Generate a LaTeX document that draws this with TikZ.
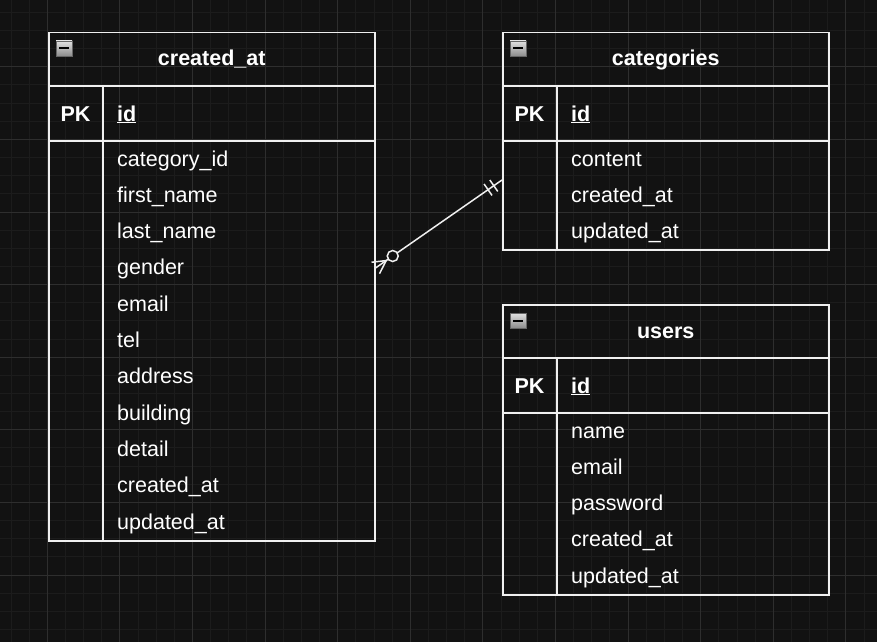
\documentclass[tikz,border=0pt]{standalone}
\usepackage{fontspec}
\setmainfont{Liberation Sans}
\usetikzlibrary{calc}
\definecolor{canvas}{HTML}{121212}
\definecolor{gridminor}{HTML}{1C1C1C}
\definecolor{gridmajor}{HTML}{2E2E2E}
\definecolor{linewhite}{HTML}{F0F0F0}

\begin{document}
\begin{tikzpicture}[x=1pt,y=-1pt,
  table/.style={draw=linewhite, line width=1.5pt, rectangle, anchor=north west, inner sep=0pt, minimum width=326pt},
  rule/.style={draw=linewhite, line width=1.5pt},
  title/.style={text=white, inner sep=0pt, anchor=base, font=\fontsize{21.5}{25}\selectfont\bfseries},
  field/.style={text=white, inner sep=0pt, anchor=base west, font=\fontsize{21.5}{25}\selectfont},
  icon/.style={rectangle, draw=black!60, line width=0.8pt, top color=black!12, bottom color=black!45, minimum width=16pt, minimum height=15pt, inner sep=0pt,
    path picture={\draw[black, line width=2pt] ($(path picture bounding box.west)+(3,0)$) -- ($(path picture bounding box.east)+(-3,0)$);}},
  link/.style={draw=linewhite, line width=1.5pt}]
\useasboundingbox[fill=canvas] (0,0) rectangle (877,642);
% grid
\foreach \i in {-2,...,45}
  \draw[gridminor, line width=1pt] ({47.3+18.15*\i},0) -- ({47.3+18.15*\i},642);
\foreach \i in {-31,...,3}
  \draw[gridminor, line width=1pt] (0,{575+18.15*\i}) -- (877,{575+18.15*\i});
\foreach \i in {0,...,11}
  \draw[gridmajor, line width=1pt] ({47.3+72.6*\i},0) -- ({47.3+72.6*\i},642);
\foreach \i in {0,...,7}
  \draw[gridmajor, line width=1pt] (0,{575-72.6*\i}) -- (877,{575-72.6*\i});

% tables
\node[table, minimum height=508pt] (createdat) at (48,32) {};
\node[table, minimum height=217pt] (categories) at (502,32) {};
\node[table, minimum height=290pt] (users) at (502,304) {};
\foreach \t in {createdat,categories,users} {
  \draw[rule] ($(\t.north west)+(0,54)$) -- ($(\t.north east)+(0,54)$);
  \draw[rule] ($(\t.north west)+(0,109)$) -- ($(\t.north east)+(0,109)$);
  \draw[rule] ($(\t.north west)+(55,54)$) -- ($(\t.south west)+(55,0)$);
  \node[icon] (\t-icon) at ($(\t.north west)+(16,16.5)$) {};
  \node[title] (\t-pk) at ($(\t.north west)+(27.5,89)$) {PK};
  \node[title, anchor=base west] (\t-id) at ($(\t.north west)+(69,89)$) {\underline{id}};
}
\node[title] (createdat-title) at ($(createdat.north)+(0,34)$) {created\_at};
\node[title] (categories-title) at ($(categories.north)+(0,34)$) {categories};
\node[title] (users-title) at ($(users.north)+(0,34)$) {users};

% fields
\foreach \field [count=\i] in {category\_id, first\_name, last\_name, gender, email, tel, address, building, detail, created\_at, updated\_at}
  \node[field] (createdat-\i) at ($(createdat.north west)+(69,{134+36.3*(\i-1)})$) {\field};
\foreach \field [count=\i] in {content, created\_at, updated\_at}
  \node[field] (categories-\i) at ($(categories.north west)+(69,{134+36.3*(\i-1)})$) {\field};
\foreach \field [count=\i] in {name, email, password, created\_at, updated\_at}
  \node[field] (users-\i) at ($(users.north west)+(69,{134+36.3*(\i-1)})$) {\field};

% relation
\coordinate (many) at (createdat.east |- 0,268);
\coordinate (one) at (categories.west |- 0,180);
\draw[link] (many) -- (one);
\draw[link] ($(many)!7pt!90:(one)$) -- ($(many)!13pt!(one)$) -- ($(many)!7pt!-90:(one)$);
\draw[link, fill=canvas] ($(many)!21pt!(one)$) circle (5.5);
\foreach \d in {10,17} {
  \coordinate (bar) at ($(one)!\d pt!(many)$);
  \draw[link] ($(bar)!7pt!90:(one)$) -- ($(bar)!7pt!-90:(one)$);
}
\end{tikzpicture}
\end{document}
